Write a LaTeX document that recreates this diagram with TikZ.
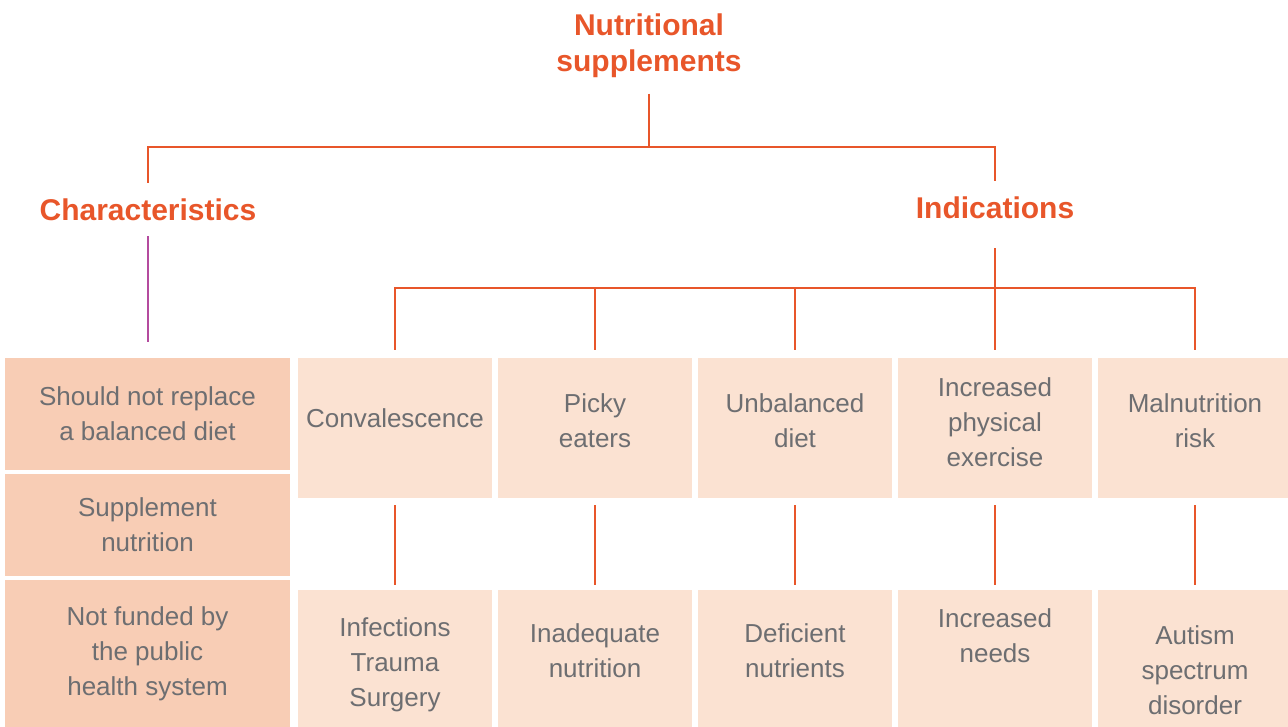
\documentclass[tikz,border=0pt]{standalone}
\usepackage{fontspec}
\setmainfont{Liberation Sans}
\usepackage{xcolor}
\usetikzlibrary{positioning}

\definecolor{naranja}{HTML}{E8562A}
\definecolor{morado}{HTML}{B44B9E}
\definecolor{melocoton}{HTML}{F8CDB5}
\definecolor{crema}{HTML}{FBE2D2}
\definecolor{gristxt}{HTML}{6D6E71}

% text of a box, moved up (or down) inside the box
\newcommand{\subetxt}[2]{\raisebox{#1}[\height][\depth]{\begin{tabular}{@{}c@{}}#2\end{tabular}}}

\begin{document}
\begin{tikzpicture}[x=1pt, y=-1pt,
  titulo/.style={font=\bfseries\fontsize{30}{36}\selectfont, text=naranja,
                 align=center, inner xsep=0pt, inner ysep=15.5pt},
  caja/.style={fill=crema, minimum width=194pt, minimum height=140pt,
               inner sep=0pt, outer sep=0pt, align=center, text=gristxt,
               font=\fontsize{26}{35}\selectfont},
  rasgo/.style={caja, fill=melocoton, minimum width=285pt},
  abajo/.style={caja, minimum height=150pt, below=92pt of #1},
  linea/.style={draw=naranja, line width=2.6pt},
  lineamorada/.style={draw=morado, line width=2.4pt},
]
  \useasboundingbox (0,0) rectangle (1288,727);

  % titles
  \node[titulo] (nut) at (649,46) {Nutritional\\supplements};
  \node[titulo] (char) at (148,209.5) {Characteristics};
  \node[titulo] (ind) at (995,208) {Indications};

  % characteristics column
  \node[rasgo, minimum height=112pt] (c1) at (147.5,414)
    {Should not replace\\a balanced diet};
  \node[rasgo, minimum height=102pt, below=4pt of c1] (c2)
    {Supplement\\nutrition};
  \node[rasgo, minimum height=147pt, below=4pt of c2] (c3)
    {Not funded by\\the public\\health system};

  % indications, upper row
  \node[caja] (i1) at (395,428) {\subetxt{8pt}{Convalescence}};
  \node[caja, right=6pt of i1] (i2) {\subetxt{5pt}{Picky\\eaters}};
  \node[caja, right=6pt of i2] (i3) {\subetxt{5pt}{Unbalanced\\diet}};
  \node[caja, right=6pt of i3] (i4) {\subetxt{4pt}{Increased\\physical\\exercise}};
  \node[caja, right=6pt of i4] (i5) {\subetxt{5pt}{Malnutrition\\risk}};

  % indications, lower row
  \node[abajo=i1] (o1) {Infections\\Trauma\\Surgery};
  \node[abajo=i2] (o2) {\subetxt{12pt}{Inadequate\\nutrition}};
  \node[abajo=i3] (o3) {\subetxt{12pt}{Deficient\\nutrients}};
  \node[abajo=i4] (o4) {\subetxt{27pt}{Increased\\needs}};
  \node[abajo=i5] (o5) {\subetxt{-7pt}{Autism\\spectrum\\disorder}};

  \coordinate (barra) at (649,147);
  \coordinate (ibarra) at (995,288);

  \draw[linea] (nut.south) -- (nut.south |- barra);
  \draw[linea] (char.north) |- (barra) -| (ind.north);
  \draw[lineamorada] (char.south) -- ([yshift=16pt]char.south |- c1.north);

  \draw[linea] ([yshift=8pt]i1.north) |- (ibarra) -| ([yshift=8pt]i5.north);
  \draw[linea] ([yshift=-13.5pt]ind.south) -- ([yshift=8pt]i4.north);
  \foreach \n in {i2,i3}
    \draw[linea] (ibarra -| \n.north) -- ([yshift=8pt]\n.north);

  \foreach \n in {1,...,5}
    \draw[linea, shorten <=7pt, shorten >=5pt] (i\n) -- (o\n);
\end{tikzpicture}
\end{document}
